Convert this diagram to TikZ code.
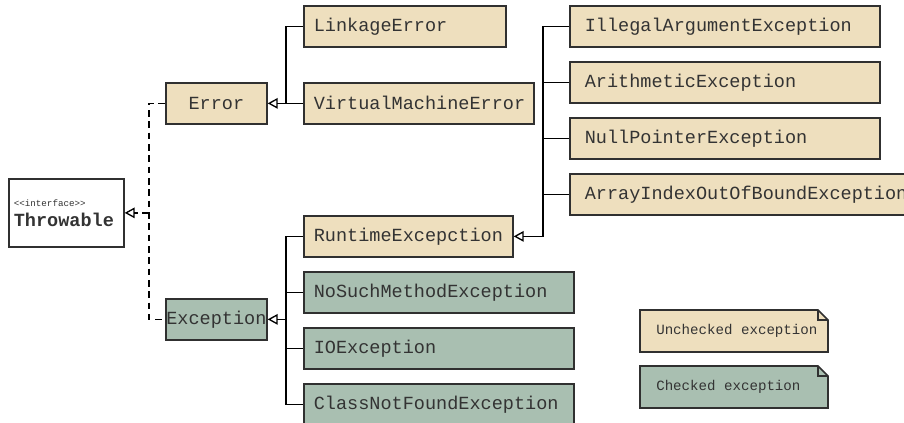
\documentclass[tikz,border=0pt]{standalone}
\usepackage{fontspec}
\setmonofont{Liberation Mono}
\usetikzlibrary{arrows.meta}
\definecolor{unchk}{HTML}{EEDFBE}
\definecolor{chk}{HTML}{A9BFB1}
\definecolor{edge}{HTML}{303030}
\definecolor{ink}{HTML}{333333}

\begin{document}
\begin{tikzpicture}[x=0.75pt,y=-0.75pt,
  cls/.style={draw=edge, line width=1.3pt, anchor=north west, inner ysep=0pt,
    minimum height=30.75pt, align=left, text=ink,
    font=\ttfamily\fontsize{13.9}{15}\selectfont},
  unc/.style={cls, fill=unchk},
  chkd/.style={cls, fill=chk},
  ctr/.style={align=center, inner xsep=0pt, minimum width=75.75pt},
  ins/.style 2 args={inner xsep=#1, text width=#2},
  link/.style={draw=black, line width=1pt},
  gen/.style={link, -{Triangle[open, length=7.5pt, width=8pt]}},
  iface/.style={link, dash pattern=on 5pt off 3.5pt},
  note/.style={draw=edge, line width=1.3pt, line join=miter},
  legtxt/.style={anchor=west, inner sep=0pt, text=ink,
    font=\ttfamily\fontsize{10.6}{12}\selectfont}
]
\clip (0,0) rectangle (904,423);
\fill[white] (0,0) rectangle (904,423);

% root interface
\node[cls, fill=white, minimum height=51pt, ins={3.75pt}{78.75pt}] (thr) at (8,178)
  {{\fontsize{6.9}{8}\selectfont <<interface>>}\\\textbf{Throwable}};

% first level
\node[unc, ctr] (err) at (165,82) {Error};
\node[chkd, ctr] (exc) at (165,298) {Exception};

% errors
\node[unc, ins={7.5pt}{136.5pt}] (link) at (303,5) {LinkageError};
\node[unc, ins={7.5pt}{157.5pt}] (vme) at (303,82) {VirtualMachineError};

% exceptions
\node[unc, ins={7.5pt}{141.75pt}] (rt) at (303,215) {RuntimeExcepction};
\node[chkd, ins={7.5pt}{187.5pt}] (nsm) at (303,271) {NoSuchMethodException};
\node[chkd, ins={7.5pt}{187.5pt}] (io) at (303,327) {IOException};
\node[chkd, ins={7.5pt}{187.5pt}] (cnf) at (303,383) {ClassNotFoundException};

% runtime exceptions
\node[unc, ins={11.25pt}{210pt}] (iae) at (569,5) {IllegalArgumentException};
\node[unc, ins={11.25pt}{210pt}] (ae) at (569,61) {ArithmeticException};
\node[unc, ins={11.25pt}{210pt}] (npe) at (569,117) {NullPointerException};
\node[unc, ins={11.25pt}{250pt}] (aio) at (569,173) {ArrayIndexOutOfBoundException};

% realization of Throwable
\draw[iface] (err.west) -- ++(-16,0) coordinate (dj) |- (exc.west);
\draw[iface, -{Triangle[open, length=7.5pt, width=8pt]}] (thr.east -| dj) -- (thr.east);

% Error hierarchy
\draw[gen] (link.west) -- ++(-17,0) coordinate (ej) |- (err.east);
\draw[link] (vme.west) -- (vme.west -| ej);

% Exception hierarchy
\draw[link] (rt.west) -- ++(-17,0) coordinate (xj) |- (cnf.west);
\draw[link] (nsm.west) -- (nsm.west -| xj);
\draw[link] (io.west) -- (io.west -| xj);
\draw[gen] (exc.east -| xj) -- (exc.east);

% RuntimeException hierarchy
\draw[gen] (iae.west) -- ++(-26,0) coordinate (rj) |- (rt.east);
\draw[link] (ae.west) -- (ae.west -| rj);
\draw[link] (npe.west) -- (npe.west -| rj);
\draw[link] (aio.west) -- (aio.west -| rj);

% legend notes
\draw[note, fill=unchk] (640,310) -- (818,310) -- (828,320) -- (828,352) -- (640,352) -- cycle;
\draw[note] (818,310) -- (818,320) -- (828,320);
\node[legtxt] (lu) at (656,331) {Unchecked exception};
\draw[note, fill=chk] (640,366) -- (818,366) -- (828,376) -- (828,408) -- (640,408) -- cycle;
\draw[note] (818,366) -- (818,376) -- (828,376);
\node[legtxt] (lc) at (656,387) {Checked exception};
\end{tikzpicture}
\end{document}
